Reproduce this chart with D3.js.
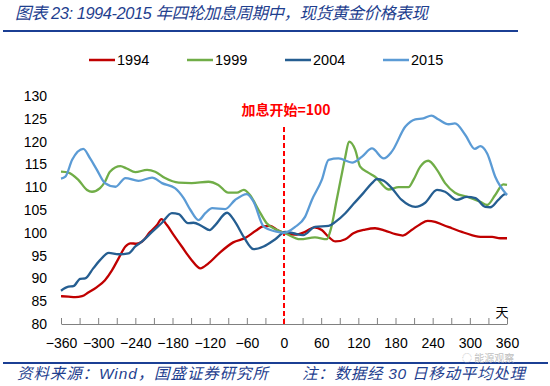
<!DOCTYPE html>
<html>
<head>
<meta charset="utf-8">
<script src="https://cdnjs.cloudflare.com/ajax/libs/d3/7.8.5/d3.min.js"></script>
<style>
  body { margin: 0; background: #fff; }
  svg { display: block; }
</style>
</head>
<body>
<svg id="chart"></svg>
<script>
// [day, price index], day 0 = first hike = 100
const s1994 = [[-360,86.1],[-348,86.0],[-337,85.9],[-326,86.1],[-316,86.9],[-302,88.1],[-289,89.6],[-278,91.7],[-267,94.4],[-256,97.0],[-248,97.7],[-238,97.6],[-229,98.1],[-216,100.2],[-205,101.7],[-198,103.0],[-189,101.7],[-178,99.5],[-165,97.0],[-149,94.0],[-135,92.2],[-122,93.3],[-104,95.6],[-82,97.9],[-62,98.9],[-45,100.5],[-34,101.4],[-22,101.5],[-11,100.6],[0,100.0],[18,99.6],[34,100.2],[49,101.2],[61,100.6],[72,99.1],[83,98.1],[99,98.6],[112,99.9],[131,100.7],[147,101.0],[163,100.5],[180,99.7],[192,99.4],[206,100.6],[220,101.9],[232,102.6],[244,102.4],[257,101.7],[271,101.0],[287,100.2],[303,99.5],[320,99.1],[336,99.1],[349,98.8],[360,98.8]];
const s1999 = [[-360,113.4],[-348,113.2],[-332,111.6],[-318,109.4],[-310,109.0],[-297,109.8],[-289,111.2],[-281,113.4],[-264,114.6],[-254,114.1],[-240,113.3],[-221,113.8],[-208,113.4],[-192,112.0],[-170,111.0],[-149,110.9],[-122,111.2],[-106,110.5],[-90,108.8],[-76,108.8],[-65,109.4],[-55,108.3],[-41,105.0],[-28,102.1],[-11,100.6],[2,99.9],[26,98.6],[50,99.0],[69,98.6],[76,101.0],[85,107.2],[92,112.0],[99,116.7],[105,120.0],[115,118.2],[123,114.5],[136,113.2],[147,112.3],[169,109.5],[185,110.0],[201,110.0],[209,111.6],[220,114.5],[233,115.8],[247,113.8],[260,110.9],[276,108.8],[298,107.8],[317,106.8],[328,106.1],[341,108.3],[354,110.6],[360,110.5]];
const s2004 = [[-360,87.3],[-348,88.2],[-340,88.3],[-329,89.9],[-321,90.0],[-308,92.2],[-297,94.0],[-283,95.6],[-267,95.3],[-251,95.5],[-240,97.0],[-229,98.1],[-213,100.2],[-197,102.2],[-181,104.3],[-170,104.1],[-155,102.1],[-146,102.2],[-133,101.5],[-120,100.6],[-111,101.7],[-92,104.4],[-79,102.4],[-65,99.1],[-49,96.4],[-33,97.0],[-14,98.6],[2,100.2],[15,99.9],[31,99.5],[50,101.3],[72,101.5],[83,102.4],[99,104.3],[112,106.3],[128,108.7],[142,110.9],[150,111.8],[161,111.4],[174,109.8],[190,107.2],[212,105.7],[228,106.6],[247,109.4],[260,109.0],[279,107.2],[295,107.9],[309,107.6],[325,105.7],[333,105.6],[346,107.2],[357,108.5],[360,108.4]];
const s2015 = [[-360,111.9],[-353,112.3],[-342,116.0],[-324,118.4],[-313,116.3],[-302,113.8],[-289,110.9],[-272,110.1],[-256,112.0],[-235,111.4],[-213,112.1],[-197,110.9],[-176,109.8],[-162,107.6],[-151,105.0],[-138,102.8],[-127,104.3],[-116,105.4],[-95,105.2],[-79,107.2],[-60,108.5],[-49,106.8],[-33,101.4],[-14,100.3],[0,100.0],[18,101.3],[34,103.5],[45,107.2],[61,111.6],[72,116.0],[88,116.3],[110,115.4],[126,116.7],[142,118.5],[161,116.3],[174,117.8],[196,123.3],[212,124.9],[225,125.1],[238,125.7],[249,124.9],[266,123.8],[276,124.0],[293,121.4],[308,118.4],[317,119.0],[328,117.4],[341,112.3],[360,108.3]];

const seriesNames = ["1994", "1999", "2004", "2015"];
const seriesData = [s1994, s1999, s2004, s2015];
const seriesColors = ["#C00000", "#70AD47", "#255E91", "#5B9BD5"];

const yTicks = [80, 85, 90, 95, 100, 105, 110, 115, 120, 125, 130];
const xLabels = [-360, -300, -240, -180, -120, -60, 0, 60, 120, 180, 240, 300, 360];
const xMinorTicks = d3.range(-360, 361, 30);

const width = 550, height = 386;
const blue = "#1F3F8F";
const numFont = "'Liberation Sans', Arial, sans-serif";
const cjkFont = "'Liberation Sans', 'Noto Sans CJK SC', sans-serif";

const svg = d3.select("#chart")
    .attr("width", width)
    .attr("height", height);

// Title and rule
svg.append("text")
    .attr("x", 15)
    .attr("y", 19)
    .attr("fill", blue)
    .attr("textLength", 413)
    .attr("lengthAdjust", "spacing")
    .style("font-family", cjkFont)
    .style("font-style", "italic")
    .style("font-size", "16.5px")
    .text("图表 23:  1994-2015 年四轮加息周期中，现货黄金价格表现");

svg.append("line")
    .attr("x1", 3).attr("x2", 518)
    .attr("y1", 31).attr("y2", 31)
    .attr("stroke", "#1B3F94")
    .attr("stroke-width", 2);

// Scales
const x = d3.scaleLinear().domain([-360, 360]).range([61, 507]);
const y = d3.scaleLinear().domain([80, 130]).range([324, 96]);

// Y labels
const yAxis = svg.append("g")
    .attr("transform", "translate(47,0)")
    .call(d3.axisLeft(y).tickValues(yTicks).tickSize(0).tickPadding(0));
yAxis.select(".domain").remove();
yAxis.selectAll("text")
    .attr("fill", "#000")
    .style("font-family", numFont)
    .style("font-size", "14px");

// X axis: inside ticks every 30 days, labels every 60
const xTicksG = svg.append("g")
    .attr("transform", `translate(0,${y(80)})`)
    .call(d3.axisBottom(x).tickValues(xMinorTicks).tickSize(-6).tickSizeOuter(0).tickFormat(""));
xTicksG.select(".domain").attr("stroke", "#808080");
xTicksG.selectAll(".tick line").attr("stroke", "#808080");

const xLabelG = svg.append("g")
    .attr("transform", `translate(0,${y(80)})`)
    .call(d3.axisBottom(x).tickValues(xLabels).tickSize(0).tickPadding(14));
xLabelG.select(".domain").remove();
xLabelG.selectAll("text")
    .attr("fill", "#000")
    .style("font-family", numFont)
    .style("font-size", "14px");

svg.append("text")
    .attr("x", 502)
    .attr("y", 317)
    .attr("text-anchor", "middle")
    .style("font-family", "'Noto Sans CJK SC', sans-serif")
    .style("font-size", "13px")
    .text("天");

// Hike start marker
svg.append("line")
    .attr("x1", x(0)).attr("x2", x(0))
    .attr("y1", 127).attr("y2", y(80))
    .attr("stroke", "#FF0000")
    .attr("stroke-width", 2)
    .attr("stroke-dasharray", "5,3");

svg.append("text")
    .attr("x", x(0) + 2)
    .attr("y", 115)
    .attr("text-anchor", "middle")
    .attr("fill", "#FF0000")
    .style("font-family", "'Noto Sans CJK SC', 'DejaVu Sans Mono', monospace")
    .style("font-size", "14px")
    .style("font-weight", "bold")
    .text("加息开始=100");

// Lines
const line = d3.line()
    .x(d => x(d[0]))
    .y(d => y(d[1]))
    .curve(d3.curveMonotoneX);

seriesData.forEach((data, i) => {
    svg.append("path")
        .datum(data)
        .attr("fill", "none")
        .attr("stroke", seriesColors[i])
        .attr("stroke-width", 2.3)
        .attr("stroke-linejoin", "round")
        .attr("d", line);
});

// Legend
const legendX = [89, 187, 285, 383];
seriesNames.forEach((name, i) => {
    const g = svg.append("g").attr("transform", `translate(${legendX[i]},60)`);
    g.append("line")
        .attr("x1", 0).attr("x2", 26)
        .attr("stroke", seriesColors[i])
        .attr("stroke-width", 2.5);
    g.append("text")
        .attr("x", 28)
        .attr("y", 5)
        .style("font-family", numFont)
        .style("font-size", "14.5px")
        .text(name);
});

// Footer
svg.append("line")
    .attr("x1", 3).attr("x2", 548)
    .attr("y1", 363).attr("y2", 363)
    .attr("stroke", "#1B3F94")
    .attr("stroke-width", 2);

svg.append("text")
    .attr("x", 462)
    .attr("y", 362)
    .attr("fill", "#b0b0b0")
    .attr("opacity", 0.8)
    .style("font-family", "'Noto Sans CJK SC', sans-serif")
    .style("font-size", "10px")
    .text("◌ 能源观察");

svg.append("text")
    .attr("x", 17)
    .attr("y", 379)
    .attr("fill", blue)
    .attr("textLength", 251)
    .attr("lengthAdjust", "spacing")
    .style("font-family", cjkFont)
    .style("font-style", "italic")
    .style("font-size", "15.5px")
    .text("资料来源：Wind，国盛证券研究所");

svg.append("text")
    .attr("x", 302)
    .attr("y", 379)
    .attr("fill", blue)
    .attr("textLength", 223)
    .attr("lengthAdjust", "spacing")
    .style("font-family", cjkFont)
    .style("font-style", "italic")
    .style("font-size", "15.5px")
    .text("注：数据经 30 日移动平均处理");
</script>
</body>
</html>
